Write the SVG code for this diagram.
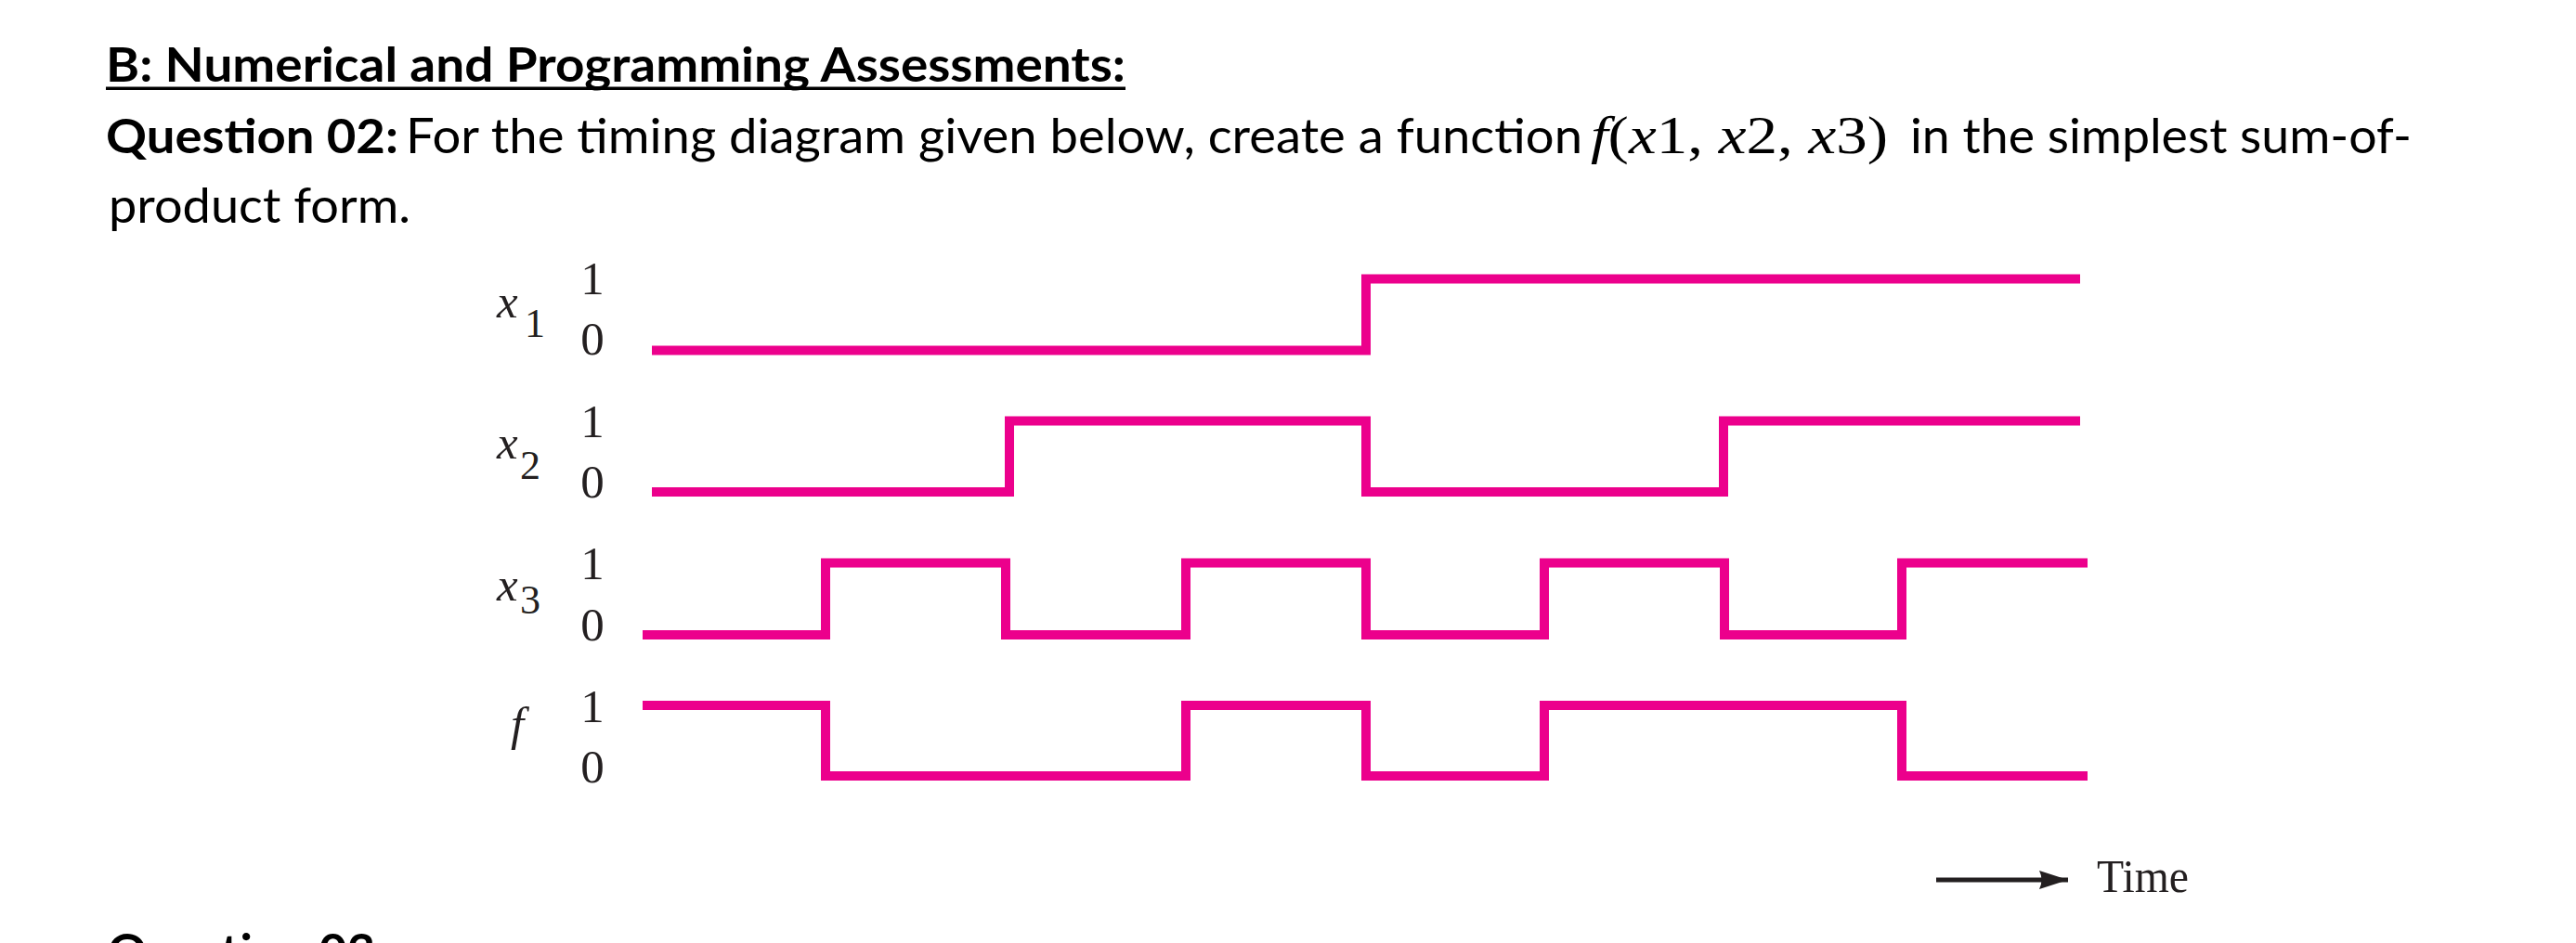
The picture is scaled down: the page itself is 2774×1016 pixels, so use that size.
<svg xmlns="http://www.w3.org/2000/svg" width="2774" height="1016" viewBox="0 0 2774 1016">
<style>
.hd{font-family:Lato,"Open Sans","Liberation Sans",sans-serif;font-size:52px;fill:#000}
.b{font-weight:bold}
.m{font-family:"Liberation Serif","DejaVu Serif",serif;font-size:56px;fill:#000}
.lbl{font-family:"Liberation Serif","DejaVu Serif",serif;font-size:51px;fill:#231F20}
.sub{font-family:"Liberation Serif","DejaVu Serif",serif;font-size:44px;fill:#231F20}
.it{font-style:italic}
.wave{fill:none;stroke:#EC008C;stroke-width:10;stroke-linejoin:miter;stroke-linecap:butt}
</style>
<defs>
<marker id="ah" markerUnits="userSpaceOnUse" markerWidth="34" markerHeight="22" refX="31" refY="10" orient="auto">
<path d="M0,0 L31,10 L0,20 Q5,10 0,0 Z" fill="#231F20"/>
</marker>
</defs>
<rect width="2774" height="1016" fill="#fff"/>
<g id="heading">
<text class="hd b" x="114" y="88" textLength="1098" lengthAdjust="spacingAndGlyphs">B: Numerical and Programming Assessments:</text>
<rect x="114" y="93.5" width="1098" height="3.5" fill="#000"/>
</g>
<g id="question">
<text class="hd b" x="114" y="165" textLength="315" lengthAdjust="spacingAndGlyphs">Question 02:</text>
<text class="hd" x="437" y="165" textLength="1267" lengthAdjust="spacingAndGlyphs">For the timing diagram given below, create a function</text>
<text class="m" x="1713" y="165" textLength="320" lengthAdjust="spacingAndGlyphs"><tspan class="it">f</tspan>(<tspan class="it">x</tspan>1, <tspan class="it">x</tspan>2, <tspan class="it">x</tspan>3)</text>
<text class="hd" x="2057" y="165" textLength="540" lengthAdjust="spacingAndGlyphs">in the simplest sum-of-</text>
<text class="hd" x="117" y="240" textLength="325" lengthAdjust="spacingAndGlyphs">product form.</text>
</g>
<g id="next-question">
<text class="hd b" x="116" y="1043" textLength="288" lengthAdjust="spacingAndGlyphs">Question 03</text>
</g>
<g id="row-x1">
<text class="lbl it" x="535" y="342">x</text><text class="sub" x="565" y="363">1</text>
<text class="lbl" x="638" y="317" text-anchor="middle">1</text>
<text class="lbl" x="638" y="382" text-anchor="middle">0</text>
<path class="wave" d="M702,377.5 H1471 V300.5 H2240"/>
</g>
<g id="row-x2">
<text class="lbl it" x="535" y="494">x</text><text class="sub" x="560" y="516">2</text>
<text class="lbl" x="638" y="470.5" text-anchor="middle">1</text>
<text class="lbl" x="638" y="536" text-anchor="middle">0</text>
<path class="wave" d="M702,530 H1087 V453.5 H1471 V530 H1856 V453.5 H2240"/>
</g>
<g id="row-x3">
<text class="lbl it" x="535" y="647">x</text><text class="sub" x="560" y="661">3</text>
<text class="lbl" x="638" y="624" text-anchor="middle">1</text>
<text class="lbl" x="638" y="689.5" text-anchor="middle">0</text>
<path class="wave" d="M692,684 H889 V606.5 H1083 V684 H1277 V606.5 H1471 V684 H1663 V606.5 H1857 V684 H2048 V606.5 H2248"/>
</g>
<g id="row-f">
<text class="lbl it" x="550" y="797">f</text>
<text class="lbl" x="638" y="777.5" text-anchor="middle">1</text>
<text class="lbl" x="638" y="843" text-anchor="middle">0</text>
<path class="wave" d="M692,760 H889 V836 H1277 V760 H1471 V836 H1663 V760 H2048 V836 H2248"/>
</g>
<g id="connectors">
<line x1="2085" y1="948" x2="2227" y2="948" stroke="#231F20" stroke-width="5" marker-end="url(#ah)"/>
</g>
<g id="time-label">
<text class="lbl" x="2258" y="961" textLength="99" lengthAdjust="spacingAndGlyphs">Time</text>
</g>
</svg>
